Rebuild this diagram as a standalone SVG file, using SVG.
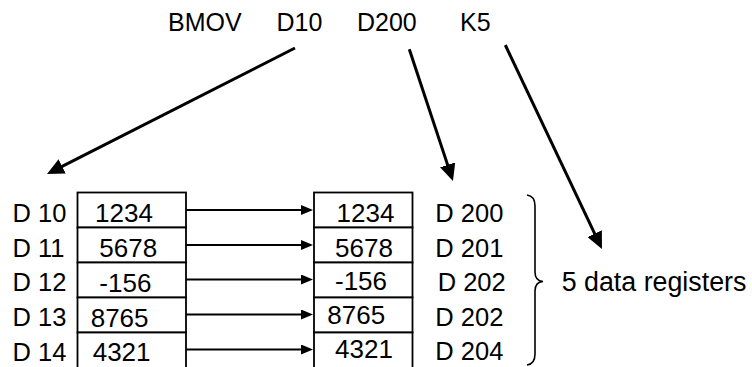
<svg xmlns="http://www.w3.org/2000/svg" width="752" height="367" viewBox="0 0 752 367">
<style>
text{font-family:"Liberation Sans",Arial,Helvetica,sans-serif;fill:#000}
.top{font-size:25px}
.lbl{font-size:25.5px}
.val{font-size:26px}
.cell{fill:#fff;stroke:#000;stroke-width:1.8}
.big{stroke:#000;stroke-width:3;fill:none}
.sm{stroke:#000;stroke-width:2;fill:none}
.brace{stroke:#000;stroke-width:1.6;fill:none}
</style>
<defs>
<marker id="bh" markerUnits="userSpaceOnUse" markerWidth="17" markerHeight="16" refX="5" refY="8" orient="auto" viewBox="0 0 17 16"><path d="M0,0 L17,8 L0,16 z" fill="#000"/></marker>
<marker id="sh" markerUnits="userSpaceOnUse" markerWidth="12" markerHeight="10" refX="2" refY="5" orient="auto" viewBox="0 0 12 10"><path d="M0,0 L12,5 L0,10 z" fill="#000"/></marker>
</defs>
<g id="instruction">
<text class="top" x="168" y="30.5">BMOV</text>
<text class="top" x="276.5" y="30.5">D10</text>
<text class="top" x="357" y="30.5">D200</text>
<text class="top" x="460" y="30.5">K5</text>
</g>
<g id="src-labels">
<text class="lbl" x="12.5" y="221.7">D 10</text>
<text class="lbl" x="12.5" y="256.7">D 11</text>
<text class="lbl" x="12.5" y="291.3">D 12</text>
<text class="lbl" x="12.5" y="325.7">D 13</text>
<text class="lbl" x="12.5" y="360.7">D 14</text>
</g>
<g id="src-D10"><rect class="cell" x="77.5" y="192.5" width="108.5" height="35"/><text class="val" x="95" y="222.2">1234</text></g>
<g id="src-D11"><rect class="cell" x="77.5" y="227.5" width="108.5" height="35"/><text class="val" x="99.3" y="256.7">5678</text></g>
<g id="src-D12"><rect class="cell" x="77.5" y="262.5" width="108.5" height="35"/><text class="val" x="99.3" y="291.5">-156</text></g>
<g id="src-D13"><rect class="cell" x="77.5" y="297.5" width="108.5" height="35"/><text class="val" x="90.7" y="326.5">8765</text></g>
<g id="src-D14"><rect class="cell" x="77.5" y="332.5" width="108.5" height="35.5"/><text class="val" x="92.7" y="361">4321</text></g>
<g id="dst-D200"><rect class="cell" x="314" y="192.5" width="98.5" height="35"/><text class="val" x="336.5" y="222.3">1234</text></g>
<g id="dst-D201"><rect class="cell" x="314" y="227.5" width="98.5" height="35"/><text class="val" x="335" y="257.3">5678</text></g>
<g id="dst-D202"><rect class="cell" x="314" y="262.5" width="98.5" height="35"/><text class="val" x="335" y="290">-156</text></g>
<g id="dst-D203"><rect class="cell" x="314" y="297.5" width="98.5" height="35"/><text class="val" x="327.3" y="324">8765</text></g>
<g id="dst-D204"><rect class="cell" x="314" y="332.5" width="98.5" height="35.5"/><text class="val" x="335" y="358.3">4321</text></g>
<g id="dst-labels">
<text class="lbl" x="435.3" y="222.3">D 200</text>
<text class="lbl" x="435.3" y="256.7">D 201</text>
<text class="lbl" x="437.7" y="291">D 202</text>
<text class="lbl" x="435.3" y="325.7">D 202</text>
<text class="lbl" x="435.3" y="360">D 204</text>
</g>
<g id="brace"><path class="brace" d="M527,195 Q535,196 535,206 L535,272 Q535,281 543,281.5 Q535,282 535,291 L535,354 Q535,364 527,365"/></g>
<g id="note"><text x="561.7" y="291" style="font-size:26.8px">5 data registers</text></g>
<g id="connectors">
<line class="big" x1="295" y1="48" x2="57.7" y2="168.6" marker-end="url(#bh)"/>
<line class="big" x1="409.3" y1="49.3" x2="449.2" y2="169.6" marker-end="url(#bh)"/>
<line class="big" x1="505.3" y1="45" x2="596.8" y2="238.2" marker-end="url(#bh)"/>
<line class="sm" x1="186" y1="210" x2="303" y2="210" marker-end="url(#sh)"/>
<line class="sm" x1="186" y1="245" x2="303" y2="245" marker-end="url(#sh)"/>
<line class="sm" x1="186" y1="279.5" x2="303" y2="279.5" marker-end="url(#sh)"/>
<line class="sm" x1="186" y1="314.5" x2="303" y2="314.5" marker-end="url(#sh)"/>
<line class="sm" x1="186" y1="349.5" x2="303" y2="349.5" marker-end="url(#sh)"/>
</g>
</svg>
